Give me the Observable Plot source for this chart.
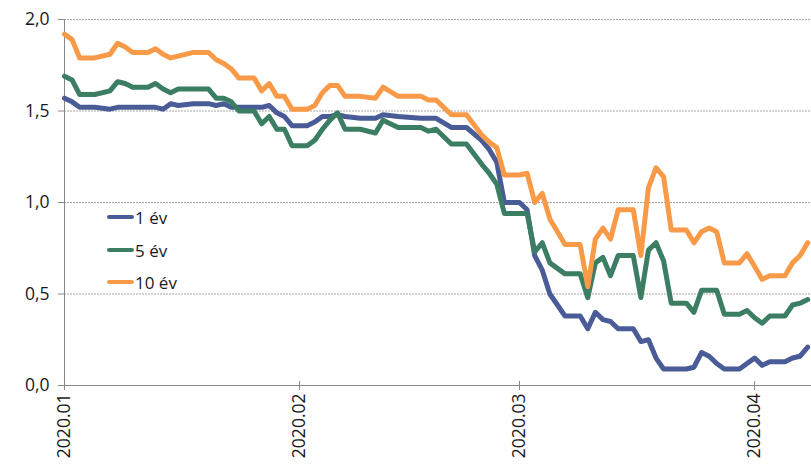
<!DOCTYPE html>
<html>
<head>
<meta charset="utf-8">
<script src="https://cdn.jsdelivr.net/npm/d3@7"></script>
<script src="https://cdn.jsdelivr.net/npm/@observablehq/plot@0.6"></script>
<style>
  html, body { margin: 0; padding: 0; background: #fff; }
  #chart { position: relative; width: 811px; height: 471px; font-family: "Open Sans", sans-serif; }
  .legend { position: absolute; left: 107px; top: 0; }
  .item { position: absolute; left: 0; display: flex; align-items: center; white-space: nowrap; font-size: 17px; color: #1a1a1a; height: 20px; }
  .sw { width: 27px; height: 4.5px; border-radius: 2px; margin-right: 1px; }
</style>
</head>
<body>
<div id="chart"></div>
<script>
// ---- data ----
const dates = [
  "2020-01-01","2020-01-02","2020-01-03","2020-01-05","2020-01-07","2020-01-08","2020-01-09","2020-01-10",
  "2020-01-12","2020-01-13","2020-01-14","2020-01-15","2020-01-16","2020-01-18","2020-01-20","2020-01-21",
  "2020-01-22","2020-01-23","2020-01-24","2020-01-26","2020-01-27","2020-01-28","2020-01-29","2020-01-30",
  "2020-01-31","2020-02-02","2020-02-03","2020-02-04","2020-02-05","2020-02-06","2020-02-07","2020-02-09",
  "2020-02-11","2020-02-12","2020-02-14","2020-02-17","2020-02-18","2020-02-19","2020-02-21","2020-02-23",
  "2020-02-25","2020-02-26","2020-02-27","2020-02-28","2020-03-01","2020-03-02","2020-03-03","2020-03-04",
  "2020-03-05","2020-03-07","2020-03-09","2020-03-10","2020-03-11","2020-03-12","2020-03-13","2020-03-14",
  "2020-03-16","2020-03-17","2020-03-18","2020-03-19","2020-03-20","2020-03-21","2020-03-23","2020-03-24",
  "2020-03-25","2020-03-26","2020-03-27","2020-03-28","2020-03-30","2020-03-31","2020-04-01","2020-04-02",
  "2020-04-03","2020-04-05","2020-04-06","2020-04-07","2020-04-08"
];
const ev1 = [
  1.57,1.55,1.52,1.52,1.51,1.52,1.52,1.52,
  1.52,1.52,1.51,1.54,1.53,1.54,1.54,1.53,
  1.54,1.52,1.52,1.52,1.52,1.53,1.49,1.47,
  1.42,1.42,1.44,1.47,1.47,1.48,1.47,1.46,
  1.46,1.48,1.47,1.46,1.46,1.46,1.41,1.41,
  1.34,1.29,1.22,1.00,1.00,0.96,0.71,0.63,
  0.50,0.38,0.38,0.31,0.40,0.36,0.35,0.31,
  0.31,0.24,0.25,0.15,0.09,0.09,0.09,0.10,
  0.18,0.16,0.12,0.09,0.09,0.12,0.15,0.11,
  0.13,0.13,0.15,0.16,0.21
];
const ev5 = [
  1.69,1.67,1.59,1.59,1.61,1.66,1.65,1.63,
  1.63,1.65,1.62,1.60,1.62,1.62,1.62,1.57,
  1.57,1.55,1.50,1.50,1.43,1.47,1.40,1.40,
  1.31,1.31,1.34,1.40,1.45,1.49,1.40,1.40,
  1.38,1.45,1.41,1.41,1.39,1.40,1.32,1.32,
  1.21,1.16,1.10,0.94,0.94,0.94,0.73,0.78,
  0.67,0.61,0.61,0.48,0.67,0.70,0.60,0.71,
  0.71,0.48,0.74,0.78,0.68,0.45,0.45,0.40,
  0.52,0.52,0.52,0.39,0.39,0.41,0.37,0.34,
  0.38,0.38,0.44,0.45,0.47
];
const ev10 = [
  1.92,1.89,1.79,1.79,1.81,1.87,1.85,1.82,
  1.82,1.84,1.81,1.79,1.80,1.82,1.82,1.78,
  1.76,1.73,1.68,1.68,1.61,1.65,1.58,1.58,
  1.51,1.51,1.53,1.60,1.64,1.64,1.58,1.58,
  1.57,1.63,1.58,1.58,1.56,1.56,1.48,1.48,
  1.37,1.33,1.30,1.15,1.15,1.16,1.00,1.05,
  0.91,0.77,0.77,0.54,0.80,0.86,0.80,0.96,
  0.96,0.71,1.08,1.19,1.14,0.85,0.85,0.78,
  0.84,0.86,0.84,0.67,0.67,0.72,0.65,0.58,
  0.60,0.60,0.67,0.71,0.78
];
const seriesNames = ["1 év", "5 év", "10 év"];
const seriesColors = ["#4A5C97", "#3B7E63", "#F89A48"];
const yTicks = [0, 0.5, 1, 1.5, 2];
const xTickDates = ["2020-01-01", "2020-02-01", "2020-03-01", "2020-04-01"];
const xTickLabels = ["2020.01", "2020.02", "2020.03", "2020.04"];

// ---- build table ----
const seriesValues = [ev1, ev5, ev10];
const data = seriesNames.flatMap((name, s) =>
  dates.map((d, i) => ({ series: name, date: new Date(d), value: seriesValues[s][i] }))
);
const xStart = new Date(xTickDates[0]);
const xEnd = new Date("2020-04-08T12:00:00Z");
const tickDates = xTickDates.map(d => new Date(d));

const chart = Plot.plot({
  width: 811,
  height: 471,
  marginTop: 19,
  marginBottom: 86,
  marginLeft: 64,
  marginRight: 0,
  style: { fontFamily: "'Open Sans', sans-serif", fontSize: "17px", color: "#1a1a1a", background: "#fff", overflow: "visible" },
  x: { type: "utc", domain: [xStart, xEnd] },
  y: { domain: [0, 2] },
  color: { domain: seriesNames, range: seriesColors },
  marks: [
    Plot.gridY(yTicks, { stroke: "#a6a6a6", strokeOpacity: 1, strokeDasharray: "2,1" }),
    Plot.ruleY([0], { stroke: "#888" }),
    Plot.ruleX([xStart], { stroke: "#888" }),
    Plot.ruleX(tickDates, { y1: 0, y2: 0.022, stroke: "#888" }),
    Plot.axisY(yTicks, {
      tickFormat: d => d.toFixed(1).replace(".", ","),
      tickSize: 6, tickPadding: 9, stroke: "#888", label: null, fontSize: 17.5
    }),
    Plot.axisX(tickDates, {
      tickFormat: (d, i) => xTickLabels[i],
      tickRotate: -90, tickSize: 5, tickPadding: 3, stroke: "#888", label: null, fontSize: 17.5
    }),
    Plot.lineY(data, {
      x: "date", y: "value", z: "series", stroke: "series",
      strokeWidth: 5, strokeLinejoin: "round", strokeLinecap: "round"
    })
  ]
});

const root = document.getElementById("chart");
root.appendChild(chart);

// legend (inside plot area, like the reference)
const legend = document.createElement("div");
legend.className = "legend";
const legendTops = [207, 240, 272];
seriesNames.forEach((name, i) => {
  const item = document.createElement("div");
  item.className = "item";
  item.style.top = legendTops[i] + "px";
  const sw = document.createElement("div");
  sw.className = "sw";
  sw.style.background = seriesColors[i];
  const t = document.createElement("span");
  t.textContent = name;
  item.appendChild(sw);
  item.appendChild(t);
  legend.appendChild(item);
});
root.appendChild(legend);
</script>
</body>
</html>
